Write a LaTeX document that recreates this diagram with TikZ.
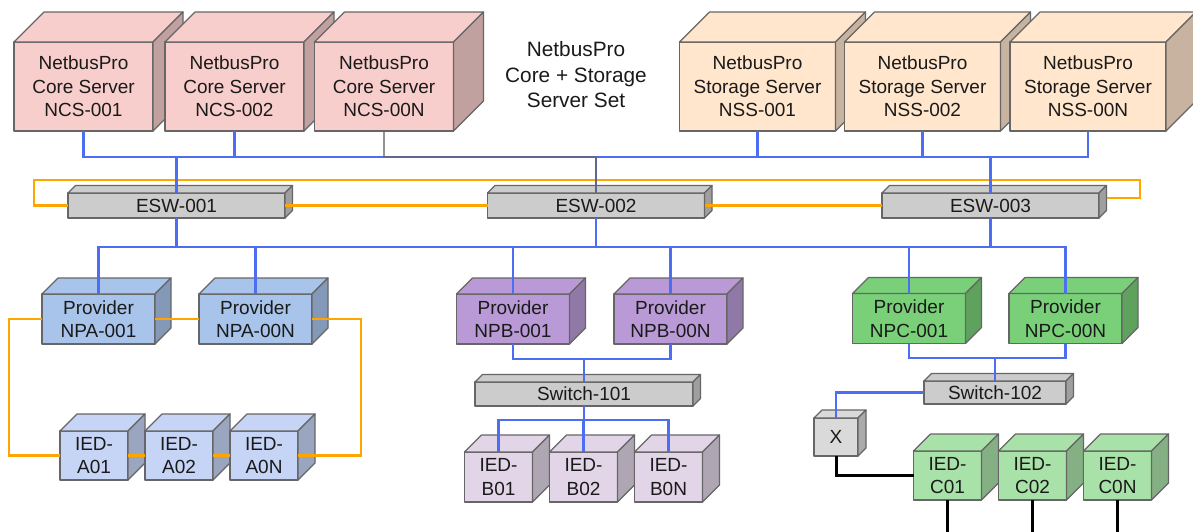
\documentclass[tikz,border=0pt]{standalone}
\usepackage{fontspec}
\setmainfont{Liberation Sans}
\usetikzlibrary{calc}
\definecolor{corefill}{HTML}{F8CECC}
\definecolor{storfill}{HTML}{FFE6CC}
\definecolor{eswfill}{HTML}{CCCCCC}
\definecolor{npafill}{HTML}{A9C4EB}
\definecolor{iedafill}{HTML}{C6D4F5}
\definecolor{npbfill}{HTML}{B99AD6}
\definecolor{iedbfill}{HTML}{E1D5E7}
\definecolor{npcfill}{HTML}{79D079}
\definecolor{iedcfill}{HTML}{A9E2A9}
\definecolor{xfill}{HTML}{DADADA}
\definecolor{cubestroke}{HTML}{666666}
\definecolor{lineblue}{HTML}{4D6EF2}
\definecolor{lineorange}{HTML}{FFA500}
\definecolor{txt}{HTML}{1A1A1A}
\tikzset{
  box/.style={draw=cubestroke, line width=1.2pt, rectangle, inner sep=0pt, outer sep=0pt,
    align=center, font=\fontsize{19}{23.5}\selectfont, text=txt, line join=round},
  cubeline/.style={draw=cubestroke, line width=1.2pt, line join=round},
  coresrv/.style={box, fill=corefill, minimum width=139pt, minimum height=89pt},
  storsrv/.style={box, fill=storfill, minimum width=156pt, minimum height=89pt},
  eswbox/.style={box, fill=eswfill, minimum width=217pt, minimum height=25pt},
  provbox/.style={box, minimum width=113pt, minimum height=50pt},
  iedbox/.style={box, minimum width=68pt, minimum height=49pt},
  bl/.style={draw=lineblue, line width=2.4pt},
  orl/.style={draw=lineorange, line width=2.4pt},
  blk/.style={draw=black, line width=3pt},
  grl/.style={draw=black!60, line width=2.4pt, opacity=0.7},
}
\newcommand\cubeext[3]{%
  \draw[cubeline, fill=#3] (#1.north west) -- ++(#2,-#2) -- ($(#1.north east)+(#2,-#2)$) -- (#1.north east) -- cycle;
  \draw[cubeline, fill=#3!78!black] (#1.north east) -- ++(#2,-#2) -- ($(#1.south east)+(#2,-#2)$) -- (#1.south east) -- cycle;}
\begin{document}
\begin{tikzpicture}[x=1pt, y=-1pt]
\useasboundingbox (0,0) rectangle (1193,531);
\fill[white] (0,0) rectangle (1193,531);
% bus levels
\coordinate (busT) at (0,157);
\coordinate (busB) at (0,247);
\coordinate (bot) at (0,540);
% core servers
\node[coresrv] (ncs1) at (83.5,86.5) {NetbusPro\\Core Server\\NCS-001};
\cubeext{ncs1}{30}{corefill}
\node[coresrv] (ncs2) at (234.5,86.5) {NetbusPro\\Core Server\\NCS-002};
\cubeext{ncs2}{30}{corefill}
\node[coresrv] (ncs3) at (384,86.5) {NetbusPro\\Core Server\\NCS-00N};
\cubeext{ncs3}{30}{corefill}
% title
\node[font=\fontsize{20.8}{25.5}\selectfont, text=txt, align=center] (title) at (576,75) {NetbusPro\\Core + Storage\\Server Set};
% storage servers
\node[storsrv] (nss1) at (757.5,86.5) {NetbusPro\\Storage Server\\NSS-001};
\cubeext{nss1}{30}{storfill}
\node[storsrv] (nss2) at (922.5,86.5) {NetbusPro\\Storage Server\\NSS-002};
\cubeext{nss2}{30}{storfill}
\node[storsrv] (nss3) at (1088,86.5) {NetbusPro\\Storage Server\\NSS-00N};
\cubeext{nss3}{30}{storfill}
% ESW
\node[eswbox] (esw1) at (176.5,205.5) {ESW-001};
\cubeext{esw1}{7.5}{eswfill}
\node[eswbox] (esw2) at (596,205.5) {ESW-002};
\cubeext{esw2}{7.5}{eswfill}
\node[eswbox] (esw3) at (990.5,205.5) {ESW-003};
\cubeext{esw3}{7.5}{eswfill}
% providers A
\node[provbox, fill=npafill] (npa1) at (98.5,319) {Provider\\NPA-001};
\cubeext{npa1}{16}{npafill}
\node[provbox, fill=npafill] (npa2) at (255.5,319) {Provider\\NPA-00N};
\cubeext{npa2}{16}{npafill}
% providers B
\node[provbox, fill=npbfill] (npb1) at (513,319) {Provider\\NPB-001};
\cubeext{npb1}{16}{npbfill}
\node[provbox, fill=npbfill] (npb2) at (670.5,319) {Provider\\NPB-00N};
\cubeext{npb2}{16}{npbfill}
% providers C
\node[provbox, fill=npcfill] (npc1) at (909,318.5) {Provider\\NPC-001};
\cubeext{npc1}{16}{npcfill}
\node[provbox, fill=npcfill] (npc2) at (1065.5,318.5) {Provider\\NPC-00N};
\cubeext{npc2}{16}{npcfill}
% switches
\node[box, fill=eswfill, minimum width=218pt, minimum height=24pt] (sw101) at (584,394) {Switch-101};
\cubeext{sw101}{7.5}{eswfill}
\node[box, fill=eswfill, minimum width=142pt, minimum height=23pt] (sw102) at (995,392.5) {Switch-102};
\cubeext{sw102}{7.5}{eswfill}
\node[box, fill=xfill, minimum width=44pt, minimum height=38pt] (xb) at (836,437) {X};
\cubeext{xb}{8}{xfill}
% IED A
\node[iedbox, fill=iedafill] (ieda1) at (94,455.5) {IED-\\A01};
\cubeext{ieda1}{17}{iedafill}
\node[iedbox, fill=iedafill] (ieda2) at (179,455.5) {IED-\\A02};
\cubeext{ieda2}{17}{iedafill}
\node[iedbox, fill=iedafill] (ieda3) at (264,455.5) {IED-\\A0N};
\cubeext{ieda3}{17}{iedafill}
% IED B
\node[iedbox, fill=iedbfill, minimum height=50pt] (iedb1) at (498.5,477) {IED-\\B01};
\cubeext{iedb1}{17}{iedbfill}
\node[iedbox, fill=iedbfill, minimum height=50pt] (iedb2) at (583.5,477) {IED-\\B02};
\cubeext{iedb2}{17}{iedbfill}
\node[iedbox, fill=iedbfill, minimum height=50pt] (iedb3) at (668.5,477) {IED-\\B0N};
\cubeext{iedb3}{17}{iedbfill}
% IED C
\node[iedbox, fill=iedcfill] (iedc1) at (947.5,475.5) {IED-\\C01};
\cubeext{iedc1}{17}{iedcfill}
\node[iedbox, fill=iedcfill] (iedc2) at (1032.5,475.5) {IED-\\C02};
\cubeext{iedc2}{17}{iedcfill}
\node[iedbox, fill=iedcfill] (iedc3) at (1117.5,475.5) {IED-\\C0N};
\cubeext{iedc3}{17}{iedcfill}
% orange ring of ESWs
\coordinate (oL) at (34,180);
\coordinate (oR) at (1140,180);
\draw[orl] (esw1.west) -| (oL) -- (oR) |- ($(esw3.east)+(8,-7.5)$);
\draw[orl] (esw1.east) -- (esw2.west);
\draw[orl] (esw2.east) -- (esw3.west);
% orange ring of A
\coordinate (aL) at (9,0);
\coordinate (aR) at (361,0);
\draw[orl] (npa1.west) -| (aL |- ieda1.west) -- (ieda1.west);
\draw[orl] (npa1.east) -- (npa2.west);
\draw[orl] (npa2.east) -| (aR |- ieda3.east) -- (ieda3.east);
\draw[orl] (ieda1.east) -- (ieda2.west);
\draw[orl] (ieda2.east) -- (ieda3.west);
% top blue bus
\draw[bl] (ncs1.south) -- (ncs1.south |- busT) -- (nss3.south |- busT) -- (nss3.south);
\draw[bl] (ncs2.south) -- (ncs2.south |- busT);
\draw[bl] (nss1.south) -- (nss1.south |- busT);
\draw[bl] (nss2.south) -- (nss2.south |- busT);
\draw[bl] (esw1.north) -- (esw1.north |- busT);
\draw[bl] (esw2.north) -- (esw2.north |- busT);
\draw[bl] (esw3.north) -- (esw3.north |- busT);
\draw[grl] (ncs3.south) |- (esw2.north |- busT) -- (esw2.north);
% lower blue bus
\draw[bl] (npa1.north) -- (npa1.north |- busB) -- (npc2.north |- busB) -- (npc2.north);
\draw[bl] (npa2.north) -- (npa2.north |- busB);
\draw[bl] (npb1.north) -- (npb1.north |- busB);
\draw[bl] (npb2.north) -- (npb2.north |- busB);
\draw[bl] (npc1.north) -- (npc1.north |- busB);
\draw[bl] (esw1.south) -- (esw1.south |- busB);
\draw[bl] (esw2.south) -- (esw2.south |- busB);
\draw[bl] (esw3.south) -- (esw3.south |- busB);
% B group
\coordinate (bB1) at (0,359);
\draw[bl] (npb1.south) -- (npb1.south |- bB1) -- (npb2.south |- bB1) -- (npb2.south);
\draw[bl] (sw101.north) -- (sw101.north |- bB1);
\coordinate (bB2) at (0,420);
\draw[bl] (iedb1.north) -- (iedb1.north |- bB2) -- (iedb3.north |- bB2) -- (iedb3.north);
\draw[bl] (iedb2.north) -- (iedb2.north |- bB2);
\draw[bl] (sw101.south) -- (sw101.south |- bB2);
% C group
\coordinate (bC1) at (0,358);
\draw[bl] (npc1.south) -- (npc1.south |- bC1) -- (npc2.south |- bC1) -- (npc2.south);
\draw[bl] (sw102.north) -- (sw102.north |- bC1);
\draw[bl] (sw102.west) -| (xb.north);
\draw[blk] (xb.south) |- (iedc1.west);
\draw[blk] (iedc1.south) -- (iedc1.south |- bot);
\draw[blk] (iedc2.south) -- (iedc2.south |- bot);
\draw[blk] (iedc3.south) -- (iedc3.south |- bot);
\end{tikzpicture}
\end{document}
